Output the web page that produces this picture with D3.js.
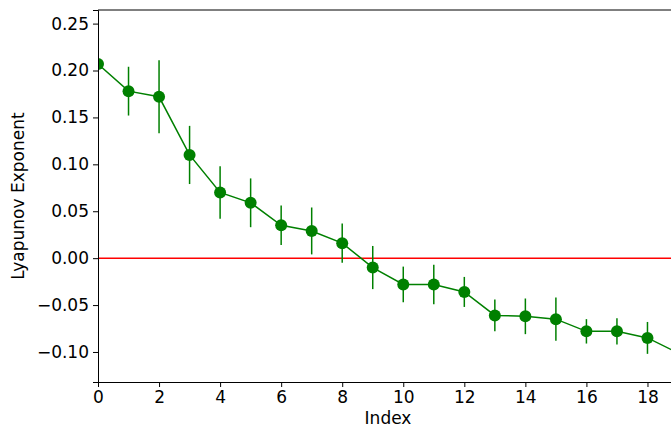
<!DOCTYPE html>
<html>
<head>
<meta charset="utf-8">
<script src="https://cdn.jsdelivr.net/npm/d3@7"></script>
<style>
body { margin:0; background:#fff; }
</style>
</head>
<body>
<svg></svg>
<script>
// values
var indices = [0,1,2,3,4,5,6,7,8,9,10,11,12,13,14,15,16,17,18,19];
var exponents = [0.207,0.178,0.172,0.110,0.070,0.059,0.035,0.029,0.016,-0.010,
                 -0.028,-0.028,-0.036,-0.061,-0.062,-0.065,-0.078,-0.078,-0.085,-0.101];
var errors = [0.039,0.026,0.039,0.031,0.028,0.026,0.021,0.025,0.021,0.023,
              0.019,0.021,0.016,0.017,0.019,0.023,0.013,0.014,0.017,0.017];
var xTicks = [0,2,4,6,8,10,12,14,16,18];
var yTicks = [-0.10,-0.05,0.00,0.05,0.10,0.15,0.20,0.25];

var screen = {width:671, height:428};
var margins = {top:10, left:98, right:-7, bottom:46};
var graph = {
    width: screen.width - margins.left - margins.right,
    height: screen.height - margins.top - margins.bottom
};
var font = "DejaVu Sans";
var fontSize = 17;

var svg = d3.select("svg")
    .attr("width", screen.width)
    .attr("height", screen.height);

var xScale = d3.scaleLinear()
    .domain([0, 19])
    .range([0, graph.width]);

var yScale = d3.scaleLinear()
    .domain([-0.132, 0.2645])
    .range([graph.height, 0]);

svg.append("defs").append("clipPath")
    .attr("id", "clip")
    .append("rect")
    .attr("width", graph.width)
    .attr("height", graph.height);

var g = svg.append("g")
    .attr("transform", "translate(" + margins.left + "," + margins.top + ")");

var plot = g.append("g").attr("clip-path", "url(#clip)");

// zero line
plot.append("line")
    .attr("x1", 0)
    .attr("x2", graph.width)
    .attr("y1", yScale(0))
    .attr("y2", yScale(0))
    .attr("stroke", "red")
    .attr("stroke-width", 1.5);

// error bars
plot.selectAll(".err")
    .data(indices)
    .enter()
    .append("line")
    .attr("class", "err")
    .attr("x1", function(i) { return xScale(i); })
    .attr("x2", function(i) { return xScale(i); })
    .attr("y1", function(i) { return yScale(exponents[i] + errors[i]); })
    .attr("y2", function(i) { return yScale(exponents[i] - errors[i]); })
    .attr("stroke", "green")
    .attr("stroke-width", 1.5);

var lineGenerator = d3.line()
    .x(function(i) { return xScale(i); })
    .y(function(i) { return yScale(exponents[i]); });

plot.append("path")
    .datum(indices)
    .attr("d", lineGenerator)
    .attr("fill", "none")
    .attr("stroke", "green")
    .attr("stroke-width", 1.5);

plot.selectAll("circle")
    .data(indices)
    .enter()
    .append("circle")
    .attr("cx", function(i) { return xScale(i); })
    .attr("cy", function(i) { return yScale(exponents[i]); })
    .attr("r", 6)
    .attr("fill", "green");

// axes
var xAxis = d3.axisBottom(xScale).tickValues(xTicks).tickSize(5).tickPadding(4)
    .tickFormat(d3.format("d"));
var yAxis = d3.axisLeft(yScale).tickValues(yTicks).tickSize(5).tickPadding(4)
    .tickFormat(function(d) { return d3.format(".2f")(d).replace("-", "\u2212"); });

g.append("g")
    .attr("transform", "translate(0," + graph.height + ")")
    .call(xAxis);
g.append("g").call(yAxis);

g.selectAll(".tick text")
    .attr("font-family", font)
    .attr("font-size", fontSize)
    .attr("fill", "#000");
g.selectAll(".tick line").attr("stroke", "#000");

// top spine
g.append("line")
    .attr("x1", 0).attr("x2", graph.width)
    .attr("y1", 0).attr("y2", 0)
    .attr("stroke", "#000");

g.selectAll(".domain").attr("stroke", "#000");

// labels
svg.append("text")
    .attr("font-family", font)
    .attr("font-size", fontSize)
    .attr("text-anchor", "middle")
    .attr("x", margins.left + graph.width / 2)
    .attr("y", 424)
    .text("Index");

svg.append("text")
    .attr("font-family", font)
    .attr("font-size", fontSize)
    .attr("text-anchor", "middle")
    .attr("transform", "translate(24," + (margins.top + graph.height / 2) + ") rotate(-90)")
    .text("Lyapunov Exponent");
</script>
</body>
</html>
